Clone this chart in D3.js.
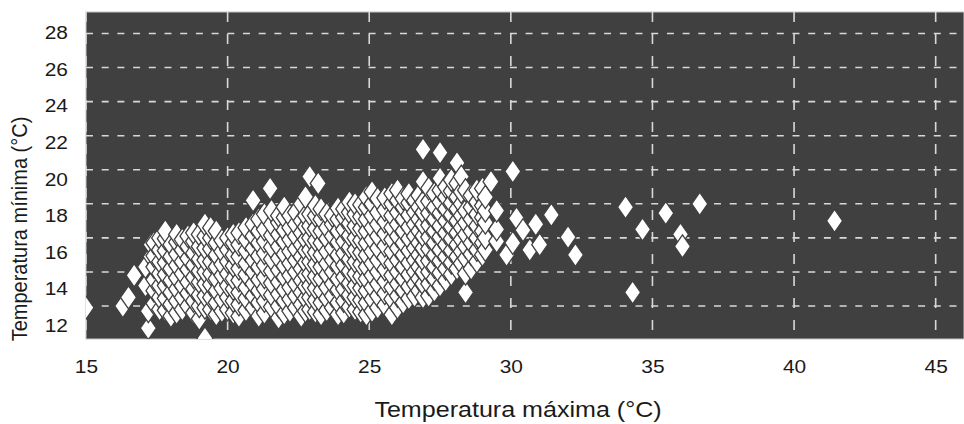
<!DOCTYPE html>
<html>
<head>
<meta charset="utf-8">
<script src="https://cdn.jsdelivr.net/npm/d3@7/dist/d3.min.js"></script>
<style>
  body { margin: 0; background: #fff; }
  text { font-family: "Liberation Sans", Arial, sans-serif; fill: #1a1a1a; }
</style>
</head>
<body>
<div id="chart"></div>
<script>
// ticks
const xTicks = [15, 20, 25, 30, 35, 40, 45];
const yTicks = [12, 14, 16, 18, 20, 22, 24, 26, 28];

const columns = [
  [15.0, [11.9]],
  [16.3, [12.0]],
  [16.5, [12.5]],
  [16.7, [13.8]],
  [17.1, [13.2, 14.3]],
  [17.2, [10.7, 11.7]],
  [17.3, [14.9, 15.6]],
  [17.4, [12.15, 12.9, 13.55, 14.3, 14.95, 15.7]],
  [17.6, [11.8, 12.5, 13.2, 13.9, 14.6, 15.3, 16.0]],
  [17.8, [11.75, 12.45, 13.2, 13.85, 14.55, 15.25, 15.95, 16.4]],
  [18.0, [11.4, 12.1, 12.8, 13.5, 14.2, 14.9, 15.6]],
  [18.2, [11.6, 12.3, 13.0, 13.65, 14.4, 15.05, 15.75, 16.2]],
  [18.4, [11.8, 12.5, 13.2, 13.9, 14.6, 15.3, 15.9]],
  [18.6, [12.0, 12.75, 13.4, 14.15, 14.8, 15.5, 16.1]],
  [18.8, [11.6, 12.3, 13.0, 13.7, 14.4, 15.1, 15.8, 16.3]],
  [19.0, [11.25, 12.0, 12.65, 13.4, 14.05, 14.75, 15.5, 16.2]],
  [19.2, [10.1, 11.9, 12.6, 13.3, 14.0, 14.7, 15.4, 16.1, 16.8]],
  [19.4, [11.8, 12.5, 13.25, 13.9, 14.6, 15.35, 16.0, 16.6]],
  [19.6, [11.5, 12.2, 12.9, 13.6, 14.3, 15.0, 15.7, 16.4]],
  [19.8, [11.7, 12.4, 13.05, 13.8, 14.45, 15.2, 15.85]],
  [20.0, [11.8, 12.5, 13.2, 13.9, 14.6, 15.3, 16.0]],
  [20.2, [11.6, 12.3, 13.0, 13.6, 14.35, 15.0, 15.7, 16.2]],
  [20.4, [11.4, 12.1, 12.8, 13.5, 14.2, 14.9, 15.6, 16.3]],
  [20.65, [11.75, 12.45, 13.1, 13.85, 14.5, 15.25, 15.9, 16.6]],
  [20.9, [11.9, 12.6, 13.3, 14.0, 14.7, 15.4, 16.1, 16.8, 18.2]],
  [21.1, [11.4, 12.2, 12.9, 13.55, 14.3, 14.95, 15.7, 16.4, 17.1]],
  [21.3, [11.6, 12.3, 13.0, 13.7, 14.4, 15.1, 15.8, 16.5, 17.4]],
  [21.5, [18.9]],
  [21.55, [11.95, 12.65, 13.35, 14.05, 14.75, 15.45, 16.15, 16.8, 17.6]],
  [21.8, [11.3, 12.0, 12.7, 13.4, 14.1, 14.8, 15.5, 16.2, 16.9, 17.3]],
  [22.0, [11.55, 12.3, 12.95, 13.7, 14.35, 15.05, 15.8, 16.45, 17.2, 17.8]],
  [22.2, [11.7, 12.4, 13.1, 13.8, 14.5, 15.2, 15.9, 16.6, 17.3]],
  [22.4, [11.9, 12.6, 13.3, 14.0, 14.7, 15.35, 16.1, 16.8, 17.5]],
  [22.6, [11.4, 12.1, 12.8, 13.5, 14.2, 14.9, 15.6, 16.3, 17.0, 18.0]],
  [22.75, [11.7, 12.45, 13.15, 13.8, 14.55, 15.25, 15.9, 16.65, 17.3, 18.4]],
  [22.9, [11.8, 12.5, 13.2, 13.9, 14.6, 15.3, 16.0, 16.7, 17.4, 19.6]],
  [23.1, [11.65, 12.35, 13.05, 13.75, 14.45, 15.15, 15.85, 16.55, 17.3, 17.9]],
  [23.2, [19.2]],
  [23.3, [11.5, 12.2, 12.9, 13.6, 14.3, 15.0, 15.7, 16.4, 17.1, 17.7]],
  [23.5, [11.75, 12.45, 13.1, 13.85, 14.5, 15.2, 15.95, 16.6, 17.4]],
  [23.7, [11.9, 12.6, 13.3, 14.0, 14.7, 15.4, 16.1, 16.8, 17.3]],
  [23.9, [11.5, 12.2, 12.95, 13.6, 14.35, 15.0, 15.75, 16.4, 17.1, 17.75]],
  [24.1, [11.6, 12.3, 13.0, 13.7, 14.4, 15.1, 15.8, 16.5, 17.2, 17.7]],
  [24.3, [11.95, 12.65, 13.35, 14.05, 14.75, 15.45, 16.15, 16.85, 17.5, 18.1]],
  [24.5, [11.8, 12.5, 13.2, 13.9, 14.6, 15.3, 16.0, 16.7, 17.4, 18.0]],
  [24.7, [11.65, 12.35, 13.05, 13.75, 14.45, 15.15, 15.85, 16.55, 17.25, 17.95]],
  [24.9, [11.5, 12.2, 12.9, 13.6, 14.3, 15.0, 15.7, 16.4, 17.1, 17.8, 18.4]],
  [25.1, [11.7, 12.4, 13.1, 13.8, 14.5, 15.2, 15.9, 16.6, 17.3, 18.0, 18.7]],
  [25.3, [11.9, 12.6, 13.3, 14.0, 14.7, 15.4, 16.1, 16.8, 17.5, 18.3]],
  [25.55, [12.05, 12.75, 13.45, 14.15, 14.85, 15.55, 16.25, 16.95, 17.65, 18.35]],
  [25.8, [11.5, 12.4, 13.1, 13.8, 14.5, 15.2, 15.9, 16.6, 17.3, 18.0, 18.6]],
  [26.0, [11.9, 12.6, 13.3, 14.0, 14.7, 15.4, 16.1, 16.8, 17.5, 18.2, 18.8]],
  [26.2, [12.2, 12.9, 13.6, 14.3, 15.0, 15.7, 16.4, 17.1, 17.8, 18.3]],
  [26.4, [12.45, 13.15, 13.85, 14.55, 15.25, 15.95, 16.65, 17.35, 18.05, 18.6]],
  [26.6, [12.6, 13.3, 14.0, 14.7, 15.4, 16.1, 16.8, 17.5, 18.2]],
  [26.75, [12.9, 13.6, 14.3, 15.0, 15.7, 16.4, 17.1, 17.8, 18.5]],
  [26.9, [12.5, 13.3, 14.0, 14.7, 15.4, 16.1, 16.8, 17.5, 18.1, 19.3, 21.2]],
  [27.1, [12.6, 13.3, 14.0, 14.65, 15.35, 16.05, 16.75, 17.45, 18.15, 18.9]],
  [27.3, [12.9, 13.6, 14.3, 15.0, 15.7, 16.4, 17.1, 17.8, 18.6]],
  [27.5, [13.2, 13.95, 14.65, 15.3, 16.05, 16.7, 17.45, 18.1, 18.8, 19.5, 21.0]],
  [27.7, [13.5, 14.2, 14.9, 15.6, 16.3, 17.0, 17.7, 18.4, 19.0]],
  [27.9, [13.85, 14.55, 15.25, 15.95, 16.65, 17.35, 18.05, 18.75, 19.4]],
  [28.1, [14.2, 14.9, 15.6, 16.3, 17.0, 17.7, 18.4, 19.2, 20.4]],
  [28.25, [14.5, 15.2, 15.9, 16.6, 17.3, 18.0, 18.7, 19.6]],
  [28.4, [12.8, 13.9, 14.8, 15.5, 16.2, 16.9, 17.6, 18.8]],
  [28.6, [14.2, 15.05, 15.7, 16.4, 17.1, 17.8, 18.5]],
  [28.8, [14.6, 15.3, 16.0, 16.7, 17.4, 18.1, 18.8]],
  [29.0, [15.0, 15.7, 16.4, 17.2, 17.9, 18.9]],
  [29.1, [15.3, 16.0, 16.9, 17.6, 18.4]],
  [29.3, [19.3]],
  [29.5, [15.8, 16.5, 17.6]],
  [29.85, [15.0]],
  [30.07, [15.7, 19.9]],
  [30.2, [17.15]],
  [30.43, [16.45]],
  [30.67, [15.3]],
  [30.88, [16.8]],
  [31.02, [15.6]],
  [31.43, [17.35]],
  [32.02, [16.05]],
  [32.28, [15.0]],
  [34.05, [17.8]],
  [34.3, [12.8]],
  [34.65, [16.5]],
  [35.47, [17.45]],
  [35.99, [16.2]],
  [36.06, [15.5]],
  [36.67, [18.0]],
  [41.43, [17.0]]
];

const points = [];
columns.forEach(c => c[1].forEach(v => points.push({tmax: c[0], tmin: v})));

const W = 964, H = 424;
const plot = {left: 86, right: 964, top: 12, bottom: 339};

const x = d3.scaleLinear().domain([15, 46]).range([plot.left, plot.right]);
// grid / marks
const y = d3.scaleLinear().domain([12, 28]).range([306, 33.5]);
// tick labels sit on a slightly different spacing in the original
const yLab = d3.scaleLinear().domain([12, 28]).range([325, 31.7]);

const svg = d3.select("#chart").append("svg")
    .attr("width", W)
    .attr("height", H);

svg.append("defs").append("clipPath").attr("id", "clip")
  .append("rect")
    .attr("x", plot.left).attr("y", plot.top)
    .attr("width", plot.right - plot.left)
    .attr("height", plot.bottom - plot.top);

svg.append("rect")
    .attr("x", plot.left).attr("y", plot.top)
    .attr("width", plot.right - plot.left)
    .attr("height", plot.bottom - plot.top)
    .attr("fill", "#404040")
    .attr("stroke", "#c4c4c4")
    .attr("stroke-width", 1);

const grid = svg.append("g").attr("clip-path", "url(#clip)");

grid.selectAll(".hgrid").data(yTicks).enter().append("line")
    .attr("x1", plot.left).attr("x2", plot.right)
    .attr("y1", d => y(d)).attr("y2", d => y(d))
    .attr("stroke", "#d8d8d8")
    .attr("stroke-width", 1.6)
    .attr("stroke-dasharray", "7,8.7");

grid.selectAll(".vgrid").data(xTicks).enter().append("line")
    .attr("x1", d => x(d)).attr("x2", d => x(d))
    .attr("y1", plot.top).attr("y2", plot.bottom)
    .attr("stroke", "#d8d8d8")
    .attr("stroke-width", 1.6)
    .attr("stroke-dasharray", "10,12");

// diamonds
const dw = 8, dh = 11.5;
svg.append("g").attr("clip-path", "url(#clip)")
  .selectAll("path").data(points).enter().append("path")
    .attr("d", `M0,${-dh}L${dw},0L0,${dh}L${-dw},0Z`)
    .attr("transform", d => "translate(" + x(d.tmax) + "," + y(d.tmin) + ")")
    .attr("fill", "#ffffff")
    .attr("stroke", "#404040")
    .attr("stroke-width", 1.3);

// x axis
const xAxis = svg.append("g")
    .attr("transform", "translate(0," + plot.bottom + ")")
    .call(d3.axisBottom(x).tickValues(xTicks).tickSize(0));
xAxis.select(".domain").remove();
xAxis.selectAll("text")
    .attr("y", 34).attr("dy", null)
    .attr("transform", "scale(1.1,1)")
    .style("font-size", "19px")
    .style("font-family", '"Liberation Sans", Arial, sans-serif')
    .style("fill", "#1a1a1a");

// y axis
const yAxis = svg.append("g")
    .attr("transform", "translate(68,0)")
    .call(d3.axisLeft(yLab).tickValues(yTicks).tickSize(0));
yAxis.select(".domain").remove();
yAxis.selectAll("text")
    .attr("x", 0).attr("dy", "0.35em")
    .attr("transform", "scale(1.1,1)")
    .style("font-size", "19px")
    .style("font-family", '"Liberation Sans", Arial, sans-serif')
    .style("fill", "#1a1a1a");

// titles
svg.append("text")
    .attr("transform", "translate(518,417) scale(1.14,1)")
    .attr("text-anchor", "middle")
    .style("font-size", "22px")
    .text("Temperatura máxima (°C)");

svg.append("text")
    .attr("transform", "translate(27,229) scale(1.1,1) rotate(-90)")
    .attr("text-anchor", "middle")
    .style("font-size", "20px")
    .text("Temperatura mínima (°C)");
</script>
</body>
</html>
